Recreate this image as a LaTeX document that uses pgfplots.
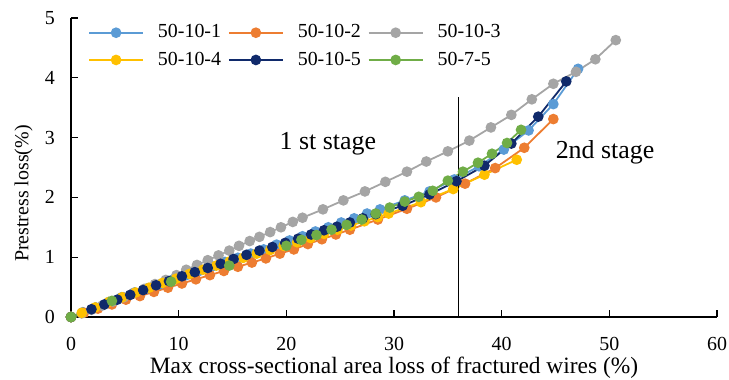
\documentclass[border=0pt]{standalone}
\usepackage{fontspec}
\setmainfont{Liberation Serif}
\usepackage{pgfplots}
\pgfplotsset{compat=1.18}

\definecolor{cA}{HTML}{5B9BD5}
\definecolor{cB}{HTML}{ED7D31}
\definecolor{cC}{HTML}{A5A5A5}
\definecolor{cD}{HTML}{FFC000}
\definecolor{cE}{HTML}{102A6B}
\definecolor{cF}{HTML}{70AD47}

\pgfplotsset{
  series/.style={color=#1, line width=1.8bp, mark=*, mark size=4.4bp,
    mark options={solid, draw=none, fill=#1}},
}

\begin{document}
\fontsize{20}{24}\selectfont
\begin{tikzpicture}
\begin{axis}[
  scale only axis, width=646bp, height=299bp,
  xmin=0, xmax=60, ymin=0, ymax=5,
  axis x line*=bottom, axis y line*=left,
  axis line style={black, line width=1.3bp, -},
  xtick={0,10,...,60}, ytick={0,1,...,5},
  minor tick num=0,
  tick align=inside, major tick length=7bp,
  tick style={black, line width=1.2bp},
  /pgf/number format/assume math mode=true,
  tick label style={font=\fontsize{20}{24}\selectfont, inner sep=0pt},
  xticklabel style={anchor=north, yshift=-20bp},
  yticklabel style={anchor=east, xshift=-16bp},
  xlabel={Max cross-sectional area loss of fractured wires (\%)},
  xlabel style={at={(axis description cs:0.5,-0.1875)}, anchor=base,
    font=\fontsize{23.5}{28}\selectfont, inner sep=0pt},
  ylabel={Prestress loss(\%)},
  ylabel style={at={(axis description cs:-0.0658,0.413)}, anchor=base,
    rotate=0, font=\fontsize{20}{24}\selectfont, inner sep=0pt},
  clip=false,
  legend columns=3,
  legend style={at={(axis description cs:0.0263,0.9786)}, anchor=north west,
    draw=none, fill=none, inner sep=0pt, row sep=11bp,
    nodes={inner sep=0pt, font=\fontsize{20}{24}\selectfont},
    /tikz/every odd column/.append style={column sep=14bp},
    /tikz/every even column/.append style={column sep=7bp}},
  legend cell align=left,
  legend image code/.code={
    \draw[mark repeat=2, mark phase=2]
      plot coordinates {(0bp,0bp) (27bp,0bp) (54bp,0bp)};},
]

% 50-10-1
\addplot[series=cA] coordinates {
 (0,0) (1.1,0.08) (2.3,0.16) (3.5,0.25) (4.7,0.33) (5.9,0.41) (7.1,0.48)
 (8.3,0.55) (9.5,0.63) (10.7,0.70) (11.9,0.77) (13.1,0.85) (14.3,0.92)
 (15.5,0.99) (16.7,1.06) (17.9,1.13) (19.1,1.21) (20.3,1.28) (21.5,1.35)
 (22.7,1.43) (23.9,1.50) (25.1,1.58) (26.3,1.65) (27.5,1.73) (28.7,1.80)
 (31.0,1.95) (33.3,2.10) (35.6,2.30) (37.9,2.52) (40.2,2.80) (42.5,3.12)
 (44.8,3.56) (47.1,4.15)};
\addlegendentry{\makebox[63bp][l]{50-10-1}}

% 50-10-2
\addplot[series=cB] coordinates {
 (0,0) (1.2,0.07) (2.5,0.14) (3.8,0.21) (5.1,0.29) (6.4,0.35) (7.7,0.42)
 (9.0,0.49) (10.3,0.56) (11.6,0.63) (12.9,0.70) (14.2,0.77) (15.5,0.84)
 (16.8,0.91) (18.1,0.98) (19.4,1.06) (20.7,1.13) (22.0,1.22) (23.3,1.30)
 (24.6,1.38) (25.9,1.46) (28.5,1.63) (31.2,1.81) (33.9,2.00) (36.6,2.23)
 (39.4,2.49) (42.1,2.83) (44.8,3.31)};
\addlegendentry{\makebox[63bp][l]{50-10-2}}

% 50-10-3
\addplot[series=cC] coordinates {
 (0,0) (1.0,0.06) (1.9,0.12) (2.9,0.19) (3.9,0.26) (4.9,0.33) (5.8,0.40)
 (6.8,0.47) (7.8,0.55) (8.8,0.62) (9.8,0.70) (10.7,0.79) (11.7,0.87)
 (12.7,0.95) (13.7,1.03) (14.7,1.11) (15.6,1.19) (16.6,1.27) (17.5,1.34)
 (18.5,1.42) (19.5,1.50) (20.6,1.59) (21.5,1.66) (23.4,1.80) (25.3,1.95)
 (27.3,2.10) (29.2,2.26) (31.2,2.43) (33.0,2.60) (35.0,2.77) (37.0,2.95)
 (39.0,3.17) (40.9,3.38) (42.8,3.64) (44.8,3.90) (46.9,4.10) (48.7,4.31)
 (50.6,4.63)};
\addlegendentry{\makebox[63bp][l]{50-10-3}}

% 50-10-4
\addplot[series=cD] coordinates {
 (0,0) (1.0,0.07) (2.25,0.16) (3.5,0.25) (4.75,0.33) (6.0,0.41) (7.25,0.49)
 (8.5,0.57) (9.75,0.64) (11.0,0.72) (12.25,0.79) (13.5,0.86) (14.75,0.93)
 (16.0,0.99) (17.25,1.06) (18.5,1.12) (19.75,1.19) (21.0,1.25) (22.25,1.32)
 (23.5,1.39) (24.75,1.46) (26.0,1.53) (27.25,1.60) (28.5,1.67) (29.5,1.73)
 (32.5,1.92) (35.5,2.14) (38.4,2.38) (41.4,2.63)};
\addlegendentry{\makebox[63bp][l]{50-10-4}}

% 50-10-5
\addplot[series=cE] coordinates {
 (0,0) (1.9,0.13) (3.1,0.21) (4.3,0.29) (5.5,0.37) (6.7,0.45) (7.9,0.53)
 (9.1,0.60) (10.3,0.68) (11.5,0.75) (12.7,0.82) (13.9,0.89) (15.1,0.97)
 (16.3,1.04) (17.5,1.11) (18.7,1.17) (19.9,1.24) (21.1,1.31) (22.3,1.38)
 (23.5,1.45) (24.7,1.51) (25.9,1.58) (27.1,1.65) (28.3,1.72) (30.8,1.86)
 (33.3,2.05) (35.8,2.27) (38.4,2.53) (40.9,2.90) (43.4,3.35) (46.0,3.94)};
\addlegendentry{\makebox[63bp][l]{50-10-5}}

% 50-7-5
\addplot[series=cF] coordinates {
 (0,0) (3.8,0.27) (9.3,0.59) (14.7,0.86) (20.0,1.19) (21.4,1.29) (22.8,1.37)
 (24.2,1.46) (25.6,1.54) (27.0,1.63) (28.3,1.73) (29.6,1.83) (31.0,1.93)
 (32.3,2.01) (33.6,2.11) (35.0,2.28) (36.4,2.43) (37.8,2.58) (39.1,2.73)
 (40.5,2.91) (41.8,3.13)};
\addlegendentry{\makebox[63bp][l]{50-7-5}}

% boundary between the two stages
\addplot[black, line width=1.6bp, forget plot] coordinates {(36,0) (36,3.68)};

\node[anchor=base, font=\fontsize{26}{30}\selectfont, inner sep=0pt]
  at (axis cs:23.86,2.795) {1 st stage};
\node[anchor=base, font=\fontsize{26}{30}\selectfont, inner sep=0pt]
  at (axis cs:49.6,2.65) {2nd stage};
\end{axis}
\pgfresetboundingbox
\path ([shift={(-71bp,-63bp)}]current axis.south west) rectangle ++(729bp,380bp);
\end{tikzpicture}
\end{document}
